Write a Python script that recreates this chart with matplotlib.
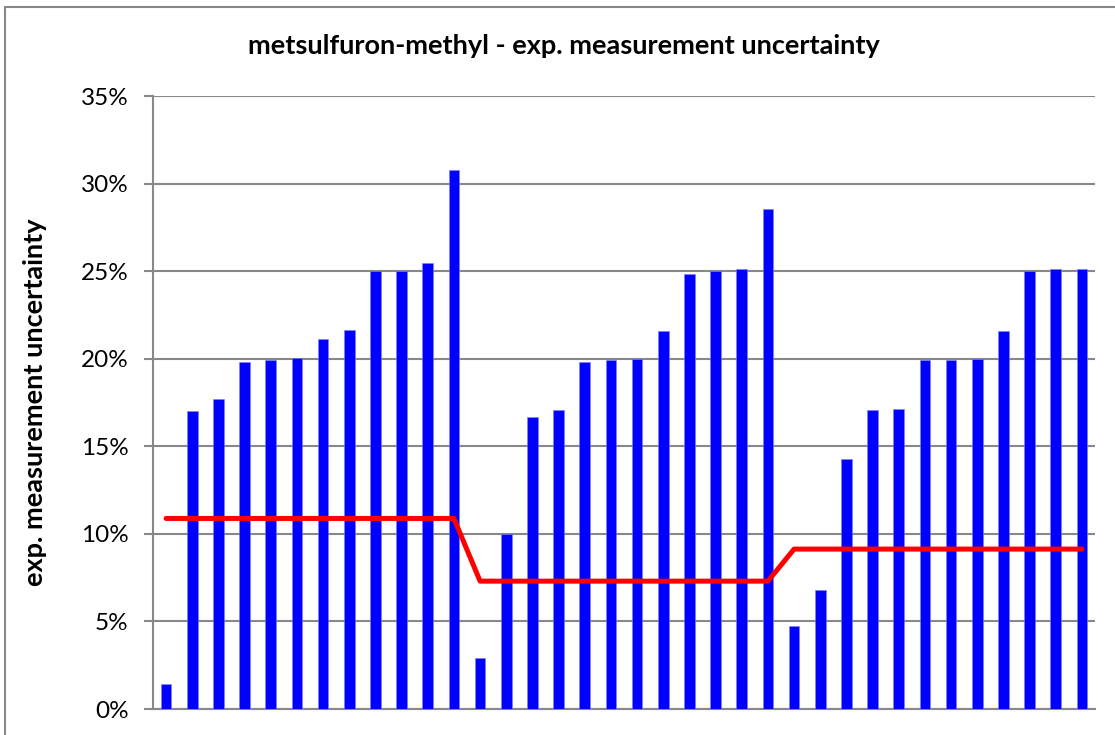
import matplotlib.pyplot as plt
from matplotlib.patches import Rectangle
from matplotlib.ticker import PercentFormatter
import numpy as np

# measured uncertainty per sample, three groups of 12 (in %)
group1 = [1.4, 17.0, 17.7, 19.8, 19.95, 20.05, 21.1, 21.65, 25.0, 25.0, 25.45, 30.75]
group2 = [2.9, 10.0, 16.7, 17.1, 19.8, 19.95, 20.0, 21.6, 24.85, 25.0, 25.1, 28.55]
group3 = [4.75, 6.8, 14.3, 17.1, 17.15, 19.9, 19.95, 20.0, 21.6, 25.0, 25.1, 25.15]
limits = [10.88, 7.3, 9.13]   # red reference level per group

title = 'metsulfuron-methyl - exp. measurement uncertainty'
ylabel = 'exp. measurement uncertainty'
yticks = [0, 5, 10, 15, 20, 25, 30, 35]

values = np.array(group1 + group2 + group3)
ref = np.repeat(limits, 12)
x = np.arange(len(values))

plt.rcParams['font.family'] = ['Lato', 'DejaVu Sans']

fig = plt.figure(figsize=(11.15, 7.35), dpi=100)
ax = fig.add_axes([153/1115, 26/735, 942/1115, 613/735])

ax.bar(x, values, width=0.41, color='#0000FF', edgecolor='#8080FF',
       linewidth=0.4, zorder=3)
ax.plot(x, ref, color='#FF0000', linewidth=3.6, solid_capstyle='round',
        solid_joinstyle='round', zorder=4)

ax.set_xlim(-0.5, len(values) - 0.5)
ax.set_ylim(0, 35)
ax.set_yticks(yticks)
ax.yaxis.set_major_formatter(PercentFormatter(decimals=0))
ax.set_xticks([])
ax.grid(axis='y', color='#888888', linewidth=1.5, zorder=0)
ax.tick_params(axis='y', length=6.5, width=1.5, color='#888888',
               labelsize=17.5, pad=11)
for side in ['top', 'right']:
    ax.spines[side].set_visible(False)
for side in ['left', 'bottom']:
    ax.spines[side].set_color('#888888')
    ax.spines[side].set_linewidth(1.5)

fig.text(564/1115, 1 - 46/735, title, fontsize=19.5, fontweight='bold',
         ha='center', va='center')
fig.text(35/1115, 1 - 402/735, ylabel, fontsize=19.5, fontweight='bold',
         rotation=90, ha='center', va='center')

# chart area border (cut off at right and bottom like the original)
fig.patches.append(Rectangle((4.5/1115, -0.1), 1.2, (728.5/735) + 0.1,
                             transform=fig.transFigure, fill=False,
                             edgecolor='#888888', linewidth=1.5))

fig.savefig('out.png', dpi=100)
